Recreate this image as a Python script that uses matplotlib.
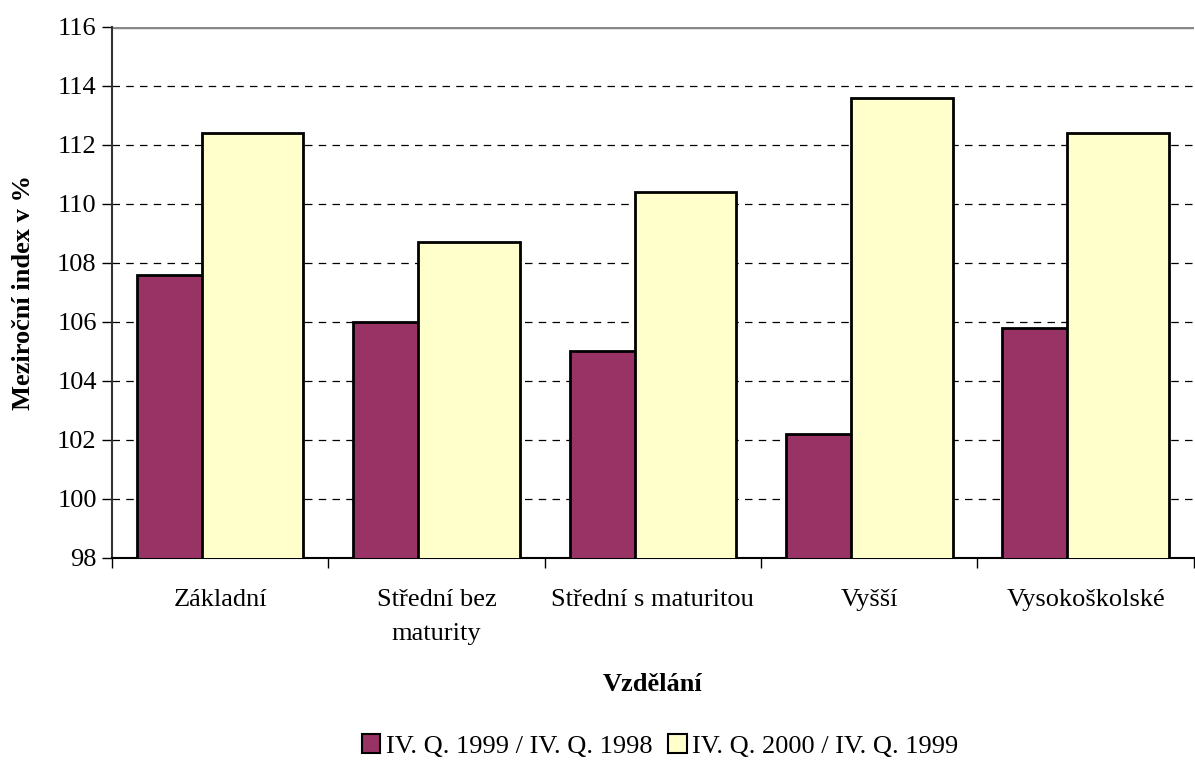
import numpy as np
import matplotlib.pyplot as plt
from matplotlib.patches import Patch

plt.rcParams['font.family'] = ['Liberation Serif', 'DejaVu Serif']

categories = ["Základní", "Střední bez\nmaturity", "Střední s maturitou", "Vyšší", "Vysokoškolské"]
s1999 = [107.6, 106.0, 105.0, 102.2, 105.8]
s2000 = [112.4, 108.7, 110.4, 113.6, 112.4]
labels = ["IV. Q. 1999 / IV. Q. 1998", "IV. Q. 2000 / IV. Q. 1999"]
colors = ["#993366", "#FFFFCC"]

fig = plt.figure(figsize=(11.95, 7.6), dpi=100)
ax = fig.add_axes([112/1195, 1 - 558/760, 1 - 112/1195 - 0.001, (558 - 27)/760])

x = np.arange(len(categories))
w = 0.47
ax.bar(x - 0.15, s1999, w, color=colors[0], edgecolor="black", linewidth=2, zorder=3)
ax.bar(x + 0.15, s2000, w, color=colors[1], edgecolor="black", linewidth=2, zorder=4)

ax.set_ylim(98, 116)
ax.set_xlim(-0.5, len(categories) - 0.5)
ax.set_yticks(range(98, 117, 2))
for yv in range(100, 116, 2):
    ax.axhline(yv, color="black", linestyle=(0, (6, 5)), linewidth=0.9, zorder=1)
ax.axhline(116, color="#888888", linewidth=2.5, zorder=1)

ax.set_xticks(x)
ax.set_xticklabels(categories, fontsize=19, linespacing=1.75)
ax.set_xticks(np.arange(-0.5, len(categories)), minor=True)
ax.tick_params(axis="x", which="major", length=0, pad=22)
ax.tick_params(axis="x", which="minor", length=7, width=1)
ax.tick_params(axis="y", labelsize=19, length=7, width=1, direction="out", pad=4)

for s in ["top", "right"]:
    ax.spines[s].set_visible(False)
ax.spines["left"].set_linewidth(1.5)
ax.spines["left"].set_color("#333333")
ax.spines["bottom"].set_linewidth(1.5)

ax.set_ylabel("Meziroční index v %", fontsize=19, fontweight="bold", labelpad=16)
ax.set_xlabel("Vzdělání", fontsize=19, fontweight="bold", labelpad=20)

handles = [Patch(facecolor=c, edgecolor="black", linewidth=1.5) for c in colors]
fig.legend(handles, labels, loc="center", bbox_to_anchor=(660/1195, 1 - 746/760), ncol=2,
           frameon=False, fontsize=19, handlelength=0.7, handleheight=0.7,
           handletextpad=0.2, columnspacing=0.6)

fig.savefig("out.png", dpi=100)
